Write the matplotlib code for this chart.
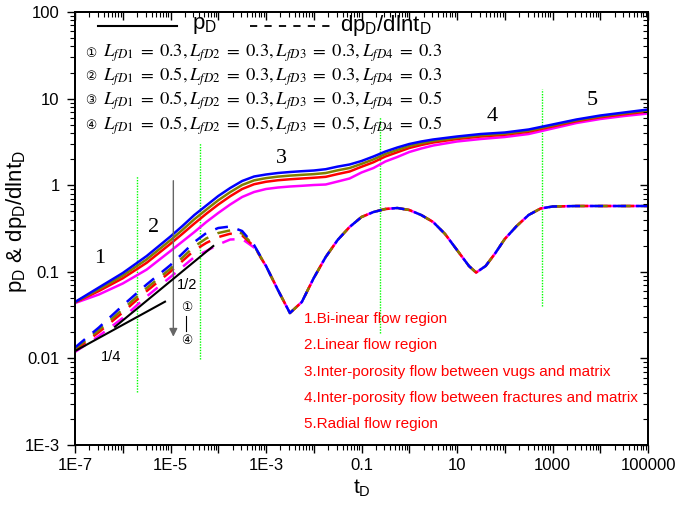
import numpy as np
import matplotlib
matplotlib.use('Agg')
import matplotlib.pyplot as plt
from matplotlib.ticker import FixedLocator, FixedFormatter, LogLocator, NullFormatter

# ---------------- data ----------------
t_solid = [1e-7, 3.162e-7, 1e-6, 3.162e-6, 1e-5, 1.778e-5, 3.162e-5, 5.623e-5, 1e-4, 1.778e-4,
           3.162e-4, 5.623e-4, 1e-3, 1.778e-3, 3.162e-3, 5.623e-3, 1e-2, 1.778e-2, 3.162e-2,
           5.623e-2, 0.1, 0.1778, 0.3162, 0.5623, 1, 1.778, 3.162, 10, 31.62, 100, 316.2, 1000,
           3162, 1e4, 31620, 1e5]
pD_1 = [0.0448, 0.0659, 0.0968, 0.152, 0.256, 0.3380, 0.453, 0.5828, 0.750, 0.9283, 1.118, 1.260,
        1.329, 1.383, 1.420, 1.451, 1.478, 1.530, 1.640, 1.734, 1.903, 2.145, 2.449, 2.725, 2.991,
        3.197, 3.372, 3.651, 3.901, 4.060, 4.398, 5.021, 5.736, 6.379, 6.911, 7.483]
pD_2 = [0.0445, 0.0629, 0.0903, 0.139, 0.232, 0.3049, 0.405, 0.5224, 0.670, 0.8318, 1.006, 1.137,
        1.207, 1.256, 1.290, 1.317, 1.342, 1.382, 1.485, 1.579, 1.763, 1.987, 2.293, 2.558, 2.836,
        3.051, 3.239, 3.532, 3.774, 3.940, 4.268, 4.891, 5.605, 6.233, 6.751, 7.289]
pD_3 = [0.0442, 0.0600, 0.0842, 0.127, 0.211, 0.2750, 0.361, 0.4681, 0.598, 0.7454, 0.904, 1.026,
        1.096, 1.141, 1.171, 1.195, 1.219, 1.249, 1.345, 1.439, 1.633, 1.841, 2.145, 2.402, 2.689,
        2.912, 3.112, 3.416, 3.651, 3.824, 4.142, 4.762, 5.476, 6.089, 6.596, 7.096]
pD_4 = [0.0436, 0.0547, 0.0733, 0.106, 0.174, 0.2238, 0.288, 0.3759, 0.478, 0.5985, 0.731, 0.8346,
        0.904, 0.9406, 0.966, 0.9842, 1.005, 1.019, 1.103, 1.195, 1.402, 1.579, 1.878, 2.117, 2.417,
        2.653, 2.873, 3.197, 3.416, 3.602, 3.901, 4.516, 5.225, 5.813, 6.296, 6.729]

t_dash_early = [1e-7, 3.162e-7, 1e-6, 3.162e-6, 1e-5, 3.162e-5, 5.623e-5, 1e-4, 1.778e-4, 3.162e-4, 5.623e-4]
d_1_early = [0.01336, 0.02274, 0.04082, 0.07134, 0.1198, 0.2209, 0.2805, 0.3205, 0.3335, 0.2958, 0.2039]
d_2_early = [0.01288, 0.02122, 0.03690, 0.06482, 0.1089, 0.1960, 0.2430, 0.2805, 0.3007, 0.2776, 0.1996]
d_3_early = [0.01250, 0.02007, 0.03397, 0.05985, 0.1005, 0.1771, 0.2157, 0.2516, 0.2754, 0.2632, 0.1965]
d_4_early = [0.01186, 0.01814, 0.02927, 0.05186, 0.08710, 0.1482, 0.1738, 0.2066, 0.2360, 0.2392, 0.1908]

t_dash_late = [1e-3, 1.778e-3, 3.162e-3, 5.623e-3, 1e-2, 1.778e-2, 3.162e-2, 5.623e-2, 0.1, 0.1778,
               0.3162, 0.5623, 1, 1.778, 3.162, 5.623, 10, 17.78, 25.12, 39.81, 63.1, 100, 177.8,
               316.2, 562.3, 1000, 3162, 1e4, 1e5]
d_late = [0.1167, 0.06163, 0.03343, 0.04480, 0.08481, 0.1482, 0.2330, 0.3291, 0.4293, 0.490,
          0.5312, 0.5455, 0.5172, 0.4529, 0.3759, 0.2732, 0.1785, 0.1167, 0.0981, 0.1167, 0.1637,
          0.2392, 0.338, 0.4529, 0.538, 0.5675, 0.5751, 0.5751, 0.5751]

# guide lines (slopes 1/4 and 1/2)
slope14_t = [1.035e-7, 7.67e-6]
slope14_y = [0.01228, 0.0452]
slope12_t = [6.89e-7, 7.87e-5]
slope12_y = [0.0232, 0.1986]

# green region dividers: t, y_bottom, y_top
div_t = [1.96e-6, 4.15e-5, 0.244, 611.6]
div_ylo = [0.00406, 0.00984, 0.0198, 0.0403]
div_yhi = [1.277, 3.06, 6.18, 12.8]

# region numbers
reg_labels = ['1', '2', '3', '4', '5']
reg_t = [3.34e-7, 4.37e-6, 2.13e-3, 53.3, 6950]
reg_y = [0.143, 0.3266, 2.045, 6.18, 9.46]

x_major = [10.0 ** k for k in range(-7, 6)]
x_labels = ['1E-7', '', '1E-5', '', '1E-3', '', '0.1', '', '10', '', '1000', '', '100000']
y_major = [1e-3, 1e-2, 1e-1, 1, 10, 100]
y_labels = ['1E-3', '0.01', '0.1', '1', '10', '100']

colors = ['#0000FF', '#808000', '#FF0000', '#FF00FF']
case_marks = ['\u2460', '\u2461', '\u2462', '\u2463']
case_vals = [('0.3', '0.3', '0.3', '0.3'),
             ('0.5', '0.3', '0.3', '0.3'),
             ('0.5', '0.3', '0.3', '0.5'),
             ('0.5', '0.5', '0.5', '0.5')]
region_notes = ['1.Bi-inear flow region', '2.Linear flow region',
                '3.Inter-porosity flow between vugs and matrix',
                '4.Inter-porosity flow between fractures and matrix',
                '5.Radial flow region']

# ---------------- plot ----------------
plt.rcParams['font.family'] = ['Liberation Sans', 'DejaVu Sans']
fig = plt.figure(figsize=(6.85, 5.15), dpi=100)
ax = fig.add_axes([0.1095, 0.1359, 0.8365, 0.8408])
ax.set_xscale('log')
ax.set_yscale('log')

pD = [pD_1, pD_2, pD_3, pD_4]
d_early = [d_1_early, d_2_early, d_3_early, d_4_early]
for i in reversed(range(4)):
    ax.plot(t_solid, pD[i], color=colors[i], lw=1.8, zorder=3)
    ax.plot(t_dash_early + t_dash_late, d_early[i] + d_late, color=colors[i], lw=1.8,
            dashes=(5.2, 4), zorder=3)

ax.plot(slope14_t, slope14_y, color='black', lw=1.5, zorder=4)
ax.plot(slope12_t, slope12_y, color='black', lw=1.5, zorder=4)

for t, lo, hi in zip(div_t, div_ylo, div_yhi):
    ax.plot([t, t], [lo, hi], color='#00FF00', lw=1.0, ls=(0, (1, 1)), zorder=2)

for s, t, y in zip(reg_labels, reg_t, reg_y):
    ax.text(t, y, s, fontsize=16, family='Liberation Serif', ha='center', va='center')

# arrow
ax.annotate('', xy=(1.146e-5, 0.0178), xytext=(1.146e-5, 1.127),
            arrowprops=dict(arrowstyle='-|>', color='#666666', lw=1.0, mutation_scale=12,
                            shrinkA=0, shrinkB=0))
ax.text(2.15e-5, 0.0385, '\u2460', fontsize=9, ha='center', va='center',
        family=['DejaVu Sans', 'Noto Sans CJK SC'])
ax.text(2.15e-5, 0.0163, '\u2463', fontsize=9, ha='center', va='center',
        family=['DejaVu Sans', 'Noto Sans CJK SC'])
ax.plot([2.15e-5, 2.15e-5], [0.0305, 0.0205], color='black', lw=0.8)
ax.text(2.19e-5, 0.0705, '1/2', fontsize=10.5, ha='center', va='center')
ax.text(5.73e-7, 0.01047, '1/4', fontsize=10.5, ha='center', va='center')

# legend (top)
ax.plot([0.0407, 0.1775], [0.9677, 0.9677], transform=ax.transAxes, color='black', lw=1.5)
ax.text(0.2037, 0.9677, r'$\mathregular{p_D}$', transform=ax.transAxes, fontsize=16,
        ha='left', va='center')
ax.plot([0.3054, 0.448], [0.9677, 0.9677], transform=ax.transAxes, color='black', lw=1.3,
        dashes=(4, 4))
ax.text(0.4625, 0.9677, r'$\mathregular{dp_D/dlnt_D}$', transform=ax.transAxes, fontsize=16,
        ha='left', va='center')

case_y = [0.9053, 0.8499, 0.7956, 0.7379]
for mk, vals, yy in zip(case_marks, case_vals, case_y):
    ax.text(0.0175, yy, mk, transform=ax.transAxes, fontsize=9, ha='left', va='center',
            family=['DejaVu Sans', 'Noto Sans CJK SC'])
    txt = '$' + ','.join(r'L_{fD%d}\;=\;%s' % (k + 1, v) for k, v in enumerate(vals)) + '$'
    t_ = ax.text(0.0483, yy, txt, transform=ax.transAxes, fontsize=13.3, ha='left', va='center')
    t_.set_math_fontfamily('stix')

note_y = [0.2903, 0.2303, 0.1693, 0.1085, 0.0478]
for s, yy in zip(region_notes, note_y):
    ax.text(0.3997, yy, s, transform=ax.transAxes, fontsize=11, color='#FF0000',
            ha='left', va='center')

# axes
ax.set_xlim(1e-7, 1e5)
ax.set_ylim(1e-3, 100)
ax.xaxis.set_major_locator(FixedLocator(x_major))
ax.xaxis.set_major_formatter(FixedFormatter(x_labels))
ax.yaxis.set_major_locator(FixedLocator(y_major))
ax.yaxis.set_major_formatter(FixedFormatter(y_labels))
for a in (ax.xaxis, ax.yaxis):
    a.set_minor_locator(LogLocator(base=10, subs=np.arange(2, 10), numticks=100))
    a.set_minor_formatter(NullFormatter())
ax.tick_params(which='major', direction='out', length=6, width=1.0, labelsize=12)
ax.tick_params(axis='x', which='major', pad=3)
ax.tick_params(axis='y', which='major', pad=5)
ax.tick_params(which='minor', direction='out', length=3.5, width=0.8)
for sp in ax.spines.values():
    sp.set_linewidth(1.2)

axt = ax.twiny()
axt.set_xscale('log')
axt.set_xlim(ax.get_xlim())
axt.xaxis.set_major_locator(FixedLocator(x_major))
axt.xaxis.set_minor_locator(LogLocator(base=10, subs=np.arange(2, 10), numticks=100))
axt.tick_params(axis='x', which='major', direction='in', length=6, width=1.0, labeltop=False)
axt.tick_params(axis='x', which='minor', direction='in', length=3.5, width=0.8)
axr = ax.twinx()
axr.set_yscale('log')
axr.set_ylim(ax.get_ylim())
axr.yaxis.set_major_locator(FixedLocator(y_major))
axr.yaxis.set_minor_locator(LogLocator(base=10, subs=np.arange(2, 10), numticks=100))
axr.tick_params(axis='y', which='major', direction='in', length=6, width=1.0, labelright=False)
axr.tick_params(axis='y', which='minor', direction='in', length=3.5, width=0.8)
for a2 in (axt, axr):
    for sp in a2.spines.values():
        sp.set_linewidth(1.2)

ax.set_xlabel(r'$\mathregular{t_D}$', fontsize=15, labelpad=4)
ax.set_ylabel(r'$\mathregular{p_D}$ & $\mathregular{dp_D/dlnt_D}$', fontsize=16)
ax.yaxis.set_label_coords(-0.08, 0.516)

fig.savefig('out.png', dpi=100)
